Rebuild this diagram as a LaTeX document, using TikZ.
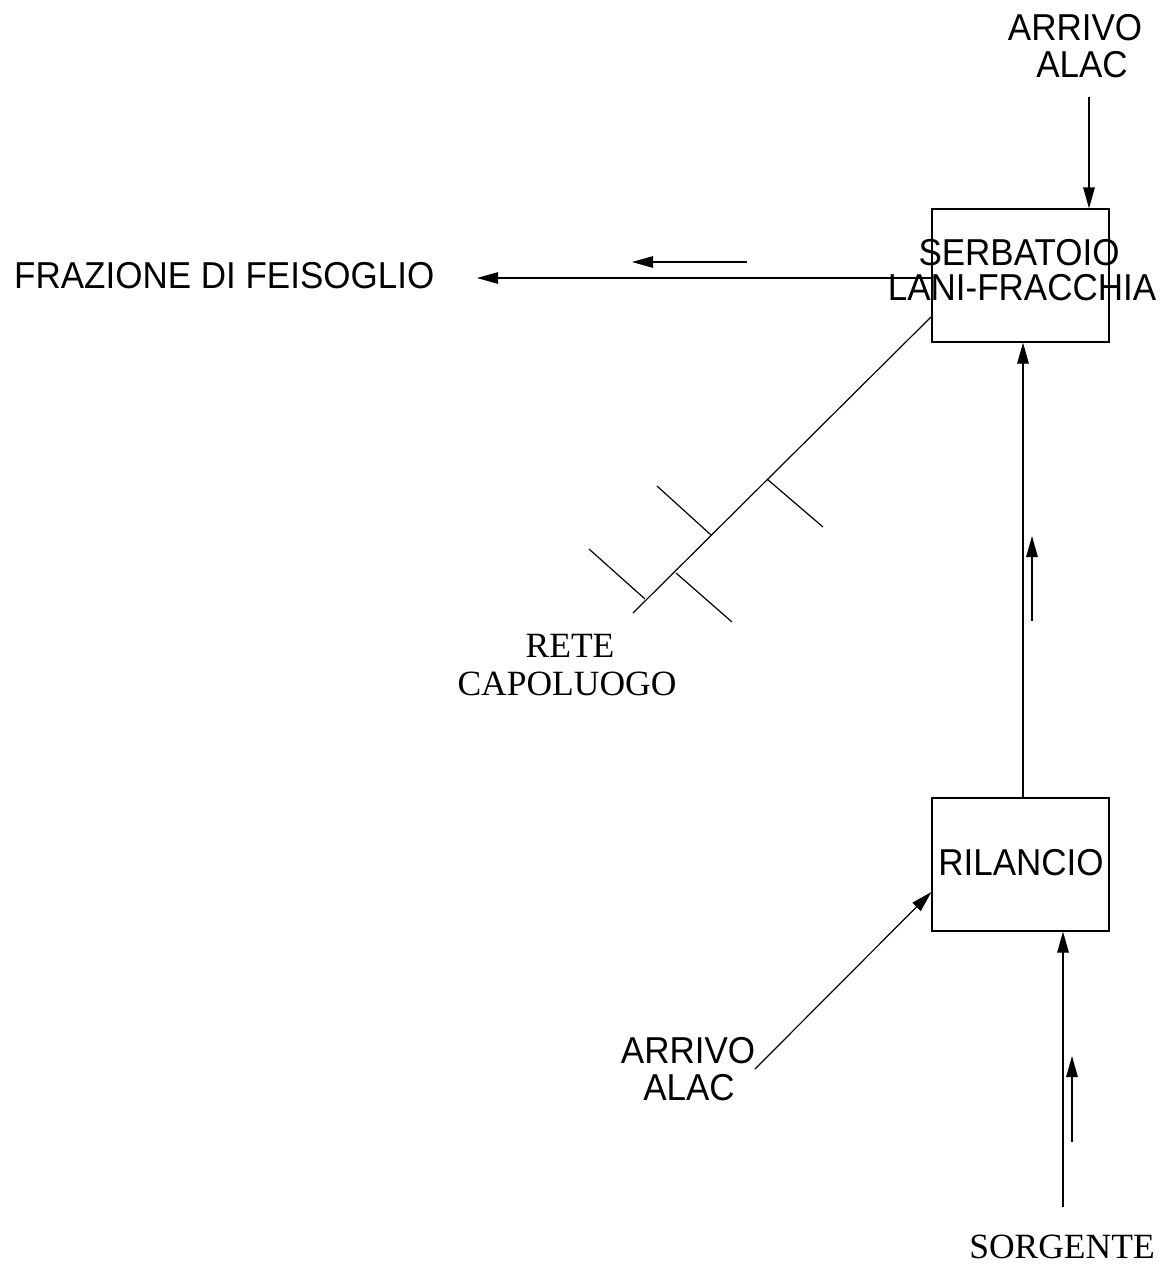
\documentclass[tikz,border=0pt]{standalone}
\usepackage{fontspec}
\usepackage{graphicx}
\setmainfont{Liberation Serif}
\newfontfamily\arialf{Liberation Sans}
\newcommand{\tallsans}[1]{\scalebox{1}[1.07]{#1}}
\usetikzlibrary{arrows.meta,calc}
\tikzset{
  ln/.style={line width=1.2pt, black},
  arr/.style={ln, -{Triangle[length=21pt,width=11.5pt]}},
  boxst/.style={draw, line width=1.2pt, minimum width=177pt, minimum height=133pt, inner sep=0pt},
  sanstxt/.style={font=\arialf\fontsize{35}{40}\selectfont, inner sep=0pt},
  seriftxt/.style={font=\fontsize{35.5}{40}\selectfont, inner sep=0pt}
}
\begin{document}
\begin{tikzpicture}[x=1pt,y=-1pt]
\useasboundingbox (0,0) rectangle (1169,1269);
\fill[white] (0,0) rectangle (1169,1269);

% boxes
\node[boxst] (serb) at (1020.5,275.5) {};
\node[sanstxt, anchor=base] (serbA) at (1019,265) {\tallsans{SERBATOIO}};
\node[sanstxt, anchor=base] (serbB) at (1022,300) {\tallsans{LANI-FRACCHIA}};
\node[boxst] (ril) at (1020.5,864.5) {};
\node[sanstxt, anchor=base] (rilT) at (1021,875) {\tallsans{RILANCIO}};

% top ARRIVO ALAC
\node[sanstxt, anchor=base] (arrT1) at (1075,40) {\tallsans{ARRIVO}};
\node[sanstxt, anchor=base] (arrT2) at (1082,77) {\tallsans{ALAC}};
\coordinate (topin) at (1089,97);
\draw[arr] (topin) -- (topin |- serb.north);

% FRAZIONE
\node[sanstxt, anchor=base west] (fraz) at (14,288) {\tallsans{FRAZIONE DI FEISOGLIO}};
\coordinate (fzend) at (477,278);
\draw[arr] (serb.west |- fzend) -- (fzend);
\coordinate (fzs1) at (747,262);
\coordinate (fzs2) at (632,262);
\draw[arr] (fzs1) -- (fzs2);

% vertical between boxes
\draw[arr] ([xshift=2.5pt]ril.north) -- ([xshift=2.5pt]serb.south);
\coordinate (vs1) at (1032,621);
\coordinate (vs2) at (1032,536);
\draw[arr] (vs1) -- (vs2);

% bottom ARRIVO ALAC
\node[sanstxt, anchor=base] (arrB1) at (688,1063) {\tallsans{ARRIVO}};
\node[sanstxt, anchor=base] (arrB2) at (689,1100) {\tallsans{ALAC}};
\coordinate (arrBout) at (755,1069);
\draw[arr] (arrBout) -- ($(ril.west)+(0,27.5)$);

% SORGENTE
\node[seriftxt, anchor=base] (sorg) at (1062,1258) {SORGENTE};
\coordinate (sgbot) at (1063,1207);
\draw[arr] (sgbot) -- (sgbot |- ril.south);
\coordinate (sgs1) at (1072,1142);
\coordinate (sgs2) at (1072,1056);
\draw[arr] (sgs1) -- (sgs2);

% RETE CAPOLUOGO
\node[seriftxt, anchor=base] (rete1) at (570,657) {RETE};
\node[seriftxt, anchor=base] (rete2) at (567,695) {CAPOLUOGO};
\coordinate (dgtop) at (931,317);
\coordinate (dgbot) at (633,613);
\draw[ln] (dgtop) -- (dgbot);
\coordinate (j1) at (767,479);
\coordinate (j2) at (711,535);
\coordinate (j3) at (676,573);
\coordinate (j4) at (645,599);
\draw[ln] (j1) -- (823,527);
\draw[ln] (j2) -- (657,486);
\draw[ln] (j3) -- (732,622);
\draw[ln] (j4) -- (589,549);
\end{tikzpicture}
\end{document}
